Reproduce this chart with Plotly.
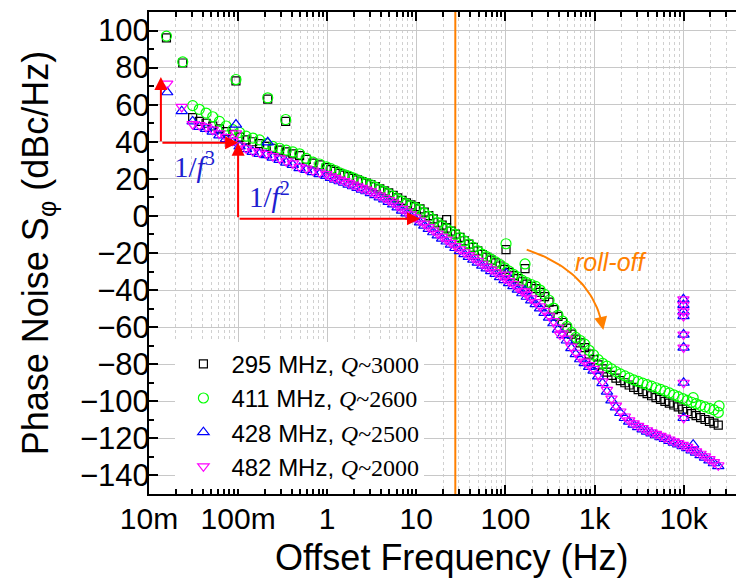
import numpy as np
import plotly.graph_objects as go

# Offset frequency grid (Hz) shared by the four resonators
freq = [
    0.0309, 0.0367, 0.0437, 0.0519, 0.0617, 0.0733, 0.0871, 0.104, 0.123, 0.146,
    0.174, 0.207, 0.245, 0.292, 0.347, 0.412, 0.490, 0.582, 0.692, 0.822,
    0.977, 1.10, 1.23, 1.38, 1.55, 1.74, 1.95, 2.19, 2.45, 2.75,
    3.09, 3.47, 3.89, 4.37, 4.90, 5.50, 6.17, 6.92, 7.76, 8.71, 9.77,
    11.0, 12.3, 13.8, 15.5, 17.4, 19.5, 21.9, 24.5, 27.5, 30.9,
    34.7, 38.9, 43.7, 49.0, 55.0, 61.7, 69.2, 77.6, 87.1, 97.7,
    110, 123, 138, 155, 174, 195, 219, 245, 275, 309,
    347, 389, 437, 490, 550, 617, 692, 776, 871, 977,
    1100, 1230, 1380, 1550, 1740, 1950, 2190, 2450, 2750, 3090,
    3470, 3890, 4370, 4900, 5500, 6170, 6920, 7760, 8710, 9770,
    11000, 12300, 13800, 15500, 17400, 19500, 21900, 24500,
]

# Phase noise (dBc/Hz) of each resonator on the grid above
pn_295 = [
    53, 51, 50, 48.5, 47, 45.5, 44, 42.5, 41, 40,
    39, 37.5, 36.5, 35.5, 34.5, 33.5, 32.5, 30.5, 28.5, 27.5,
    26, 25, 24, 23, 22, 21.2, 20.3, 19.4, 18.5, 17.7,
    16.9, 15.8, 14.6, 13.5, 12.4, 11.1, 9.8, 8.4, 7.1, 6, 5,
    3.8, 2, 0.2, -1.6, -3.4, -5, -6.6, -8.2, -9.8, -11.6,
    -13.4, -15.2, -17, -18.9, -20.8, -22.3, -23.8, -25.3, -27, -28.8,
    -30.5, -32.2, -33.8, -35.5, -36.8, -38, -39.2, -41.2, -43.5, -46.5,
    -50.5, -54.2, -57.5, -60.5, -63.8, -66.5, -68.5, -71, -74.5, -77.5,
    -80.3, -82.5, -84.3, -86, -87.5, -88.8, -90, -91.2, -92.5, -93.7,
    -94.8, -95.9, -97, -98, -99, -100, -101, -102, -103, -104.2,
    -105.5, -106.6, -107.7, -108.8, -109.8, -110.8, -111.8, -112.8,
]
pn_411 = [
    59.5, 57.5, 55.5, 53.5, 51, 48.5, 46.5, 45, 43, 42,
    41, 39, 37.5, 36.5, 35.5, 34.5, 33.5, 31, 29, 28,
    26.5, 25.5, 24.5, 23.2, 22.3, 21.5, 20.5, 19.5, 18.5, 17.6,
    16.8, 15.5, 14.3, 13.2, 12, 10.6, 9.2, 7.8, 6.5, 5.5, 4.5,
    3.4, 1.5, -0.2, -2, -3.8, -5.5, -7, -8.5, -10, -11.8,
    -13.5, -15.2, -17, -18.8, -20.6, -22, -23.3, -24.8, -26.3, -28,
    -29.8, -31.5, -33, -34.8, -36, -37, -38, -40, -42.3, -45.5,
    -49.7, -53.5, -56.7, -59.6, -62.8, -65.5, -67.2, -69.2, -72.5, -75,
    -77.5, -79.5, -81, -82.5, -84, -85.2, -86.3, -87.4, -88.4, -89.3,
    -90.2, -91, -91.8, -92.7, -93.6, -94.5, -95.5, -96.5, -97.5, -98.5,
    -99.5, -100.5, -101.3, -102.2, -103, -103.8, -104.6, -106,
]
pn_428 = [
    51, 48, 47, 45.5, 43.5, 41.5, 39.5, 37.5, 36, 34.5,
    33.5, 32.8, 31.5, 30.2, 28.8, 27.5, 25.8, 24.8, 23.6, 22.6,
    21.6, 20.5, 19.6, 18.7, 17.9, 16.9, 16, 15.1, 14.2, 13.3,
    12.3, 11.2, 10, 8.9, 7.6, 6.2, 4.6, 2.9, 1.4, -0.2, -1.8,
    -3.5, -5.2, -7, -8.8, -10.5, -12.2, -13.8, -15.5, -17.3, -19,
    -20.6, -22.1, -23.6, -25.2, -26.8, -28.3, -29.8, -31.3, -33, -34.6,
    -36.2, -37.9, -39.8, -41.7, -43.6, -45.6, -47.6, -49.9, -52.3, -54.9,
    -57.9, -61.3, -64.3, -67.2, -71.3, -74.6, -77.3, -79.4, -81.4, -83.4,
    -86.5, -90.2, -94.8, -99.5, -103.3, -106.3, -109, -111, -112.6, -113.9,
    -115.1, -116.3, -117.3, -118.3, -119.3, -120.3, -121.3, -122.3, -123.2, -124.2,
    -125.3, -126.5, -127.7, -129, -130.4, -131.9, -133.4, -135,
]
pn_482 = [
    49.5, 49, 48, 46.5, 44.5, 42.5, 40.5, 38, 36.5, 35,
    34.2, 33.5, 32.3, 31, 29.5, 28.3, 26.5, 25.5, 24.5, 23.5,
    22.5, 21.3, 20.5, 19.6, 18.8, 17.8, 16.9, 16, 15.1, 14.2,
    13.2, 12.1, 11, 9.8, 8.6, 7.2, 5.5, 3.8, 2.3, 0.8, -0.8,
    -2.5, -4.2, -6, -7.8, -9.5, -11.2, -12.8, -14.5, -16.3, -18,
    -19.6, -21.1, -22.6, -24.2, -25.8, -27.3, -28.8, -30.3, -32, -33.6,
    -35.2, -36.8, -38.7, -40.6, -42.5, -44.5, -46.5, -48.8, -51.2, -53.8,
    -56.8, -60.3, -63.3, -66.2, -70.5, -73.8, -76.5, -78.6, -80.5, -82.5,
    -85.5, -89.2, -93.8, -98.5, -102.3, -105.5, -108.2, -110.3, -111.9, -113.2,
    -114.4, -115.6, -116.7, -117.6, -118.6, -119.6, -120.6, -121.6, -122.5, -123.5,
    -124.6, -125.8, -127, -128.3, -129.7, -131.2, -132.8, -134.5,
]

# Spurious points (line harmonics, 10 kHz spur) per resonator
spur_f_295 = [0.0157, 0.0239, 0.0946, 0.215, 0.342, 21.9, 101.6, 166]
spur_v_295 = [96, 82.5, 72.8, 63, 51, -2, -18.2, -28.4]
spur_f_411 = [0.0157, 0.0239, 0.0946, 0.215, 0.342, 101.6, 166, 12800, 25000]
spur_v_411 = [97, 83.1, 73.6, 63.7, 52, -15, -25.9, -98, -102.5]
spur_f_428 = [0.016, 0.0233, 0.0946, 0.215, 101.6, 166, 9940, 9950, 9960, 9970,
              9980, 9990, 10000, 10010, 12800]
spur_v_428 = [66.7, 56.5, 49.3, 39.7, -31, -40.5, -45, -48, -51.5, -54,
              -64, -71, -90, -109, -123.4]
spur_f_482 = [0.016, 0.0233, 0.0946, 101.6, 166, 410, 9940, 9950, 9960, 9970,
              9980, 9990, 10000, 10010]
spur_v_482 = [71.4, 58.8, 44.5, -31.7, -40.7, -64, -45, -48, -51.5, -54,
              -64, -71, -90, -109]

series_names = [
    '295 MHz, <span style="font-family:Liberation Serif"><i>Q</i>~3000</span>',
    '411 MHz, <span style="font-family:Liberation Serif"><i>Q</i>~2600</span>',
    '428 MHz, <span style="font-family:Liberation Serif"><i>Q</i>~2500</span>',
    '482 MHz, <span style="font-family:Liberation Serif"><i>Q</i>~2000</span>',
]
series_colors = ["#000000", "#00ff00", "#0000ff", "#ff00ff"]
series_symbols = ["square-open", "circle-open", "triangle-up-open", "triangle-down-open"]
series_sizes = [8, 10, 10, 10]

x_tick_vals = [0.01, 0.1, 1, 10, 100, 1000, 10000]
x_tick_text = ["10m", "100m", "1", "10", "100", "1k", "10k"]

cutoff_freq = 27.4  # loop bandwidth marker (Hz)

# slope guide arrows: (tail f, tail dB, head f, head dB)
guide_arrows = [
    (0.0136, 39.5, 0.1, 39.5),
    (0.0136, 39.5, 0.0136, 75),
    (0.1, -1.5, 11, -1.5),
    (0.1, -1.5, 0.1, 39.5),
]

SANS = "Liberation Sans, Arial, sans-serif"
SERIF = "Liberation Serif, Times New Roman, serif"

fig = go.Figure()

# vertical marker line
fig.add_trace(go.Scatter(x=[cutoff_freq, cutoff_freq], y=[-150, 110], mode="lines",
                         line=dict(color="#ff8000", width=2), showlegend=False,
                         hoverinfo="skip"))

main_vals = [pn_295, pn_411, pn_428, pn_482]
spur_fs = [spur_f_295, spur_f_411, spur_f_428, spur_f_482]
spur_vs = [spur_v_295, spur_v_411, spur_v_428, spur_v_482]
for name, vals, sf, sv, col, sym, sz in zip(series_names, main_vals, spur_fs, spur_vs,
                                            series_colors, series_symbols, series_sizes):
    fig.add_trace(go.Scatter(
        x=list(freq) + list(sf), y=list(vals) + list(sv), mode="markers", name=name,
        marker=dict(symbol=sym, size=sz, color=col, line=dict(color=col, width=1.2)),
    ))

# curved "roll-off" arrow: quadratic Bezier in (log f, dB) space
p0, p1, p2 = (2.239, -18.2), (2.99, -30.2), (3.099, -61.5)
t = np.linspace(0, 1, 40)
bx = (1 - t) ** 2 * p0[0] + 2 * (1 - t) * t * p1[0] + t ** 2 * p2[0]
by = (1 - t) ** 2 * p0[1] + 2 * (1 - t) * t * p1[1] + t ** 2 * p2[1]
fig.add_trace(go.Scatter(x=10 ** bx[:-3], y=by[:-3], mode="lines",
                         line=dict(color="#ff8000", width=2),
                         showlegend=False, hoverinfo="skip"))

annotations = []


def arrow(f_tail, v_tail, f_head, v_head, color):
    annotations.append(dict(
        x=np.log10(f_head), y=v_head, ax=np.log10(f_tail), ay=v_tail,
        xref="x", yref="y", axref="x", ayref="y", text="", showarrow=True,
        arrowhead=2, arrowsize=1.3, arrowwidth=2, arrowcolor=color, standoff=0,
    ))


for f0, v0, f1, v1 in guide_arrows:
    arrow(f0, v0, f1, v1, "#ff0000")
# head of the roll-off arrow
arrow(10 ** bx[-4], by[-4], 10 ** bx[-1], by[-1], "#ff8000")

annotations += [
    dict(x=-1.484, y=27.7, xref="x", yref="y", showarrow=False,
         text="1/<i>f</i><sup>3</sup>", font=dict(family=SERIF, size=29, color="#2020d0")),
    dict(x=-0.653, y=11.5, xref="x", yref="y", showarrow=False,
         text="1/<i>f</i><sup>2</sup>", font=dict(family=SERIF, size=29, color="#2020d0")),
    dict(x=3.196, y=-24.7, xref="x", yref="y", showarrow=False,
         text="<i>roll-off</i>", font=dict(family=SANS, size=25, color="#ff8000")),
    # x-axis title
    dict(x=0.516, y=-0.132, xref="paper", yref="paper", showarrow=False,
         xanchor="center", yanchor="middle",
         text="Offset Frequency (Hz)", font=dict(family=SANS, size=36, color="black")),
]

fig.update_layout(
    width=736, height=580,
    margin=dict(l=149, r=0, t=12, b=86),
    paper_bgcolor="white", plot_bgcolor="white",
    font=dict(family=SANS, color="black"),
    annotations=annotations,
    legend=dict(x=0.045, y=0.316, xanchor="left", yanchor="top", bgcolor="white",
                borderwidth=0, font=dict(family=SANS, size=24, color="black"),
                itemwidth=46, tracegroupgap=0),
    xaxis=dict(
        type="log", range=[-2, 4.588],
        tickvals=x_tick_vals, ticktext=x_tick_text,
        ticks="inside", ticklen=9, tickwidth=2, tickcolor="black",
        showline=True, linewidth=2, linecolor="black", mirror="ticks",
        showgrid=True, gridcolor="#c8c8c8", gridwidth=1,
        minor=dict(ticks="inside", ticklen=5, tickwidth=1.5, tickcolor="black",
                   showgrid=True, gridcolor="#d0d0d0", griddash="dot", dtick="D1"),
        tickfont=dict(size=30), ticklabelstandoff=-3, zeroline=False,
    ),
    yaxis=dict(
        range=[-150, 110], tick0=0, dtick=20,
        ticks="inside", ticklen=9, tickwidth=2, tickcolor="black",
        showline=True, linewidth=2, linecolor="black", mirror=False,
        showgrid=True, gridcolor="#c8c8c8", gridwidth=1, zeroline=False,
        minor=dict(ticks="inside", ticklen=5, tickwidth=1.5, tickcolor="black", dtick=10,
                   showgrid=False),
        tickfont=dict(size=31), ticklabelstandoff=-9,
        title=dict(text="Phase Noise S<sub>φ</sub> (dBc/Hz)", font=dict(size=36), standoff=20),
    ),
)

fig.write_html("out.html")
